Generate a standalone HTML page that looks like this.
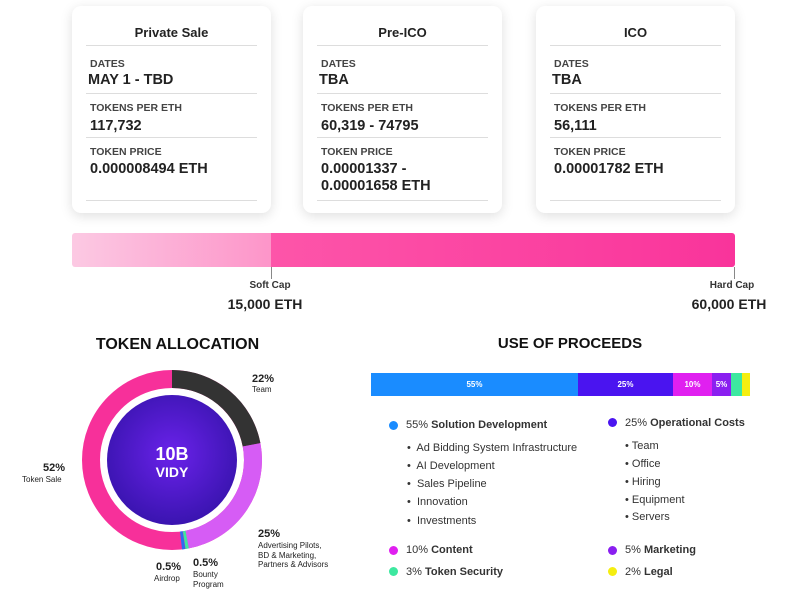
<!DOCTYPE html>
<html><head><meta charset="utf-8"><style>
body{margin:0;width:800px;height:600px;background:#fff;position:relative;overflow:hidden;font-family:"Liberation Sans",sans-serif;color:#222}
.a{position:absolute}
.card{position:absolute;top:6px;width:199px;height:207px;background:#fff;border-radius:9px;box-shadow:0 3px 12px rgba(0,0,0,.13)}
.card .t{position:absolute;top:19px;left:0;width:100%;text-align:center;font-weight:bold;font-size:13px}
.card .l{position:absolute;left:14px;width:171px;height:1px;background:#ddd}
.card .s{position:absolute;left:18px;font-size:10.5px;font-weight:bold;color:#444}
.card .v{position:absolute;left:18px;font-size:14.5px;font-weight:bold;color:#222;line-height:17px}
.b{font-weight:bold}
.dot{position:absolute;width:9px;height:9px;border-radius:50%}
.li{position:absolute;font-size:11px;color:#333}
</style></head><body>

<div class="card" style="left:72px"><div class="t">Private Sale</div><div class="l" style="top:39px"></div>
<div class="s" style="top:52px">DATES</div><div class="v" style="top:66px;left:16px">MAY 1 - TBD</div><div class="l" style="top:87px"></div>
<div class="s" style="top:96px">TOKENS PER ETH</div><div class="v" style="top:112px">117,732</div><div class="l" style="top:131px"></div>
<div class="s" style="top:140px">TOKEN PRICE</div><div class="v" style="top:155px">0.000008494 ETH</div><div class="l" style="top:194px"></div></div>

<div class="card" style="left:303px"><div class="t">Pre-ICO</div><div class="l" style="top:39px"></div>
<div class="s" style="top:52px">DATES</div><div class="v" style="top:66px;left:16px">TBA</div><div class="l" style="top:87px"></div>
<div class="s" style="top:96px">TOKENS PER ETH</div><div class="v" style="top:112px">60,319 - 74795</div><div class="l" style="top:131px"></div>
<div class="s" style="top:140px">TOKEN PRICE</div><div class="v" style="top:155px">0.00001337 -<br>0.00001658 ETH</div><div class="l" style="top:194px"></div></div>

<div class="card" style="left:536px"><div class="t">ICO</div><div class="l" style="top:39px"></div>
<div class="s" style="top:52px">DATES</div><div class="v" style="top:66px;left:16px">TBA</div><div class="l" style="top:87px"></div>
<div class="s" style="top:96px">TOKENS PER ETH</div><div class="v" style="top:112px">56,111</div><div class="l" style="top:131px"></div>
<div class="s" style="top:140px">TOKEN PRICE</div><div class="v" style="top:155px">0.00001782 ETH</div><div class="l" style="top:194px"></div></div>

<div class="a" style="left:72px;top:233px;width:199px;height:34px;background:linear-gradient(90deg,#fcc9e3,#fd95c9);border-radius:3px 0 0 3px"></div>
<div class="a" style="left:271px;top:233px;width:464px;height:34px;background:linear-gradient(90deg,#fd55a9,#f9349b);border-radius:0 3px 3px 0"></div>
<div class="a" style="left:271px;top:267px;width:1px;height:12px;background:#888"></div>
<div class="a" style="left:734px;top:267px;width:1px;height:12px;background:#888"></div>
<div class="a b" style="left:228px;top:280px;width:84px;text-align:center;font-size:10px;color:#333">Soft Cap</div>
<div class="a b" style="left:210px;top:296px;width:110px;text-align:center;font-size:14px">15,000 ETH</div>
<div class="a b" style="left:690px;top:280px;width:84px;text-align:center;font-size:10px;color:#333">Hard Cap</div>
<div class="a b" style="left:674px;top:296px;width:110px;text-align:center;font-size:14px">60,000 ETH</div>

<div class="a b" style="left:60px;top:336px;width:235px;text-align:center;font-size:16px;color:#111">TOKEN ALLOCATION</div>
<svg class="a" style="left:0;top:0" width="800" height="600">
<defs><radialGradient id="g" cx="50%" cy="45%" r="55%"><stop offset="0" stop-color="#6a22ea"/><stop offset="1" stop-color="#3a14b0"/></radialGradient></defs>
<g transform="translate(172,460)" fill="none" stroke-width="18">
<circle r="81" stroke="#f7309a"/>
<circle r="81" stroke="#333" stroke-dasharray="111.96 1000" transform="rotate(-90)"/>
<circle r="81" stroke="#d65cf5" stroke-dasharray="127.23 1000" transform="rotate(-10.8)"/>
<circle r="81" stroke="#3de8a0" stroke-dasharray="3 1000" transform="rotate(79.2)"/>
<circle r="81" stroke="#2d6cf0" stroke-dasharray="3 1000" transform="rotate(81.5)"/>
<circle r="65" fill="url(#g)" stroke="none"/>
</g>
<text x="172" y="460" text-anchor="middle" font-family="Liberation Sans" font-weight="bold" font-size="18" fill="#fff">10B</text>
<text x="172" y="477" text-anchor="middle" font-family="Liberation Sans" font-weight="bold" font-size="14" fill="#fff">VIDY</text>
</svg>
<div class="a b" style="left:252px;top:373px;font-size:11px">22%</div>
<div class="a" style="left:252px;top:385px;font-size:8px">Team</div>
<div class="a b" style="left:43px;top:462px;font-size:11px">52%</div>
<div class="a" style="left:22px;top:475px;font-size:8px">Token Sale</div>
<div class="a b" style="left:258px;top:528px;font-size:11px">25%</div>
<div class="a" style="left:258px;top:541px;font-size:8px;line-height:9.5px">Advertising Pilots,<br>BD &amp; Marketing,<br>Partners &amp; Advisors</div>
<div class="a b" style="left:156px;top:561px;font-size:11px">0.5%</div>
<div class="a" style="left:154px;top:574px;font-size:8px">Airdrop</div>
<div class="a b" style="left:193px;top:557px;font-size:11px">0.5%</div>
<div class="a" style="left:193px;top:570px;font-size:8px;line-height:10px">Bounty<br>Program</div>

<div class="a b" style="left:440px;top:335px;width:260px;text-align:center;font-size:15px;color:#111">USE OF PROCEEDS</div>
<div class="a" style="left:371px;top:373px;height:23px;width:379px;display:flex;font-size:8px;font-weight:bold;color:#fff;line-height:23px;text-align:center">
<div style="width:207px;background:#1a8cff">55%</div><div style="width:95px;background:#4a14f0">25%</div><div style="width:39px;background:#e020f0">10%</div><div style="width:19px;background:#8a1ff0">5%</div><div style="width:11px;background:#3de8a0"></div><div style="width:8px;background:#f5ee10"></div></div>

<div class="dot" style="left:389px;top:421px;background:#1a8cff"></div>
<div class="li" style="left:406px;top:419px">55% <b>Solution Development</b></div>
<div class="li" style="left:407px;top:442px">•&nbsp; Ad Bidding System Infrastructure</div>
<div class="li" style="left:407px;top:460px">•&nbsp; AI Development</div>
<div class="li" style="left:407px;top:478px">•&nbsp; Sales Pipeline</div>
<div class="li" style="left:407px;top:496px">•&nbsp; Innovation</div>
<div class="li" style="left:407px;top:515px">•&nbsp; Investments</div>
<div class="dot" style="left:608px;top:418px;background:#4a14f0"></div>
<div class="li" style="left:625px;top:417px">25% <b>Operational Costs</b></div>
<div class="li" style="left:625px;top:440px">• Team</div>
<div class="li" style="left:625px;top:458px">• Office</div>
<div class="li" style="left:625px;top:476px">• Hiring</div>
<div class="li" style="left:625px;top:494px">• Equipment</div>
<div class="li" style="left:625px;top:511px">• Servers</div>
<div class="dot" style="left:389px;top:546px;background:#e020f0"></div>
<div class="li" style="left:406px;top:544px">10% <b>Content</b></div>
<div class="dot" style="left:389px;top:567px;background:#3de8a0"></div>
<div class="li" style="left:406px;top:566px">3% <b>Token Security</b></div>
<div class="dot" style="left:608px;top:546px;background:#8a1ff0"></div>
<div class="li" style="left:625px;top:544px">5% <b>Marketing</b></div>
<div class="dot" style="left:608px;top:567px;background:#f5ee10"></div>
<div class="li" style="left:625px;top:566px">2% <b>Legal</b></div>
</body></html>
